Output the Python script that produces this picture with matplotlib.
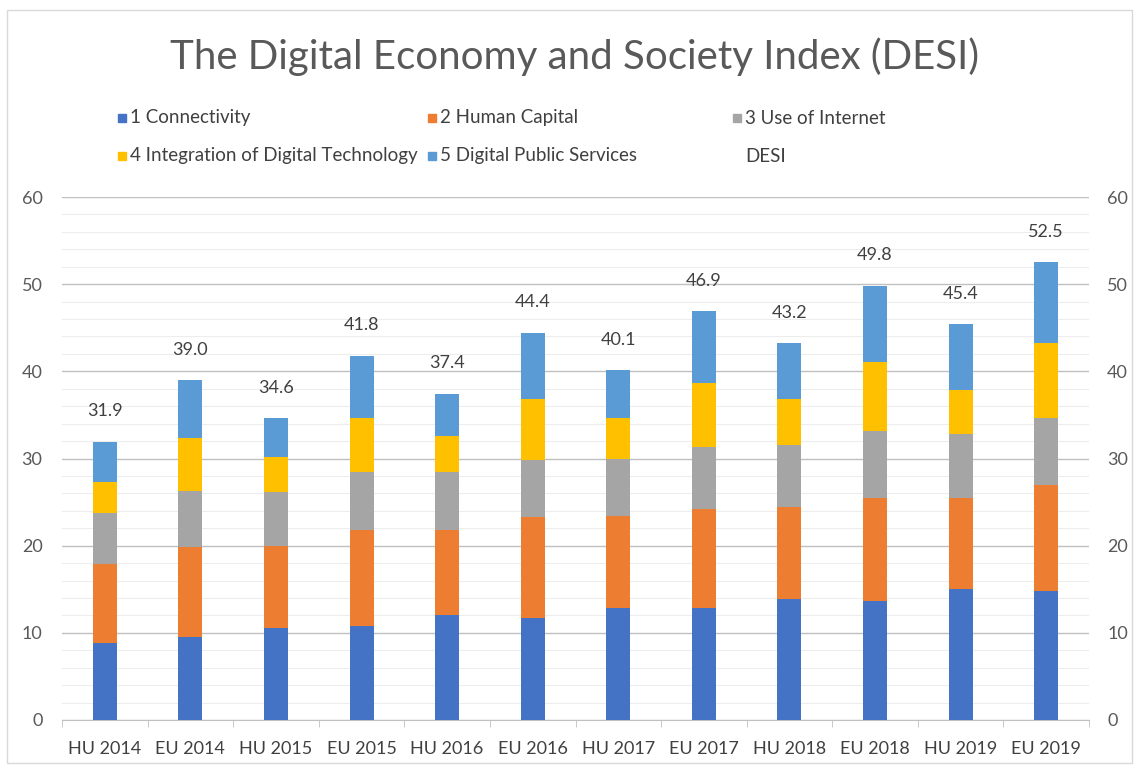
import matplotlib.pyplot as plt
from matplotlib.patches import Rectangle
import numpy as np

plt.rcParams['font.family'] = ['Lato', 'DejaVu Sans']

categories = ['HU 2014', 'EU 2014', 'HU 2015', 'EU 2015', 'HU 2016', 'EU 2016',
              'HU 2017', 'EU 2017', 'HU 2018', 'EU 2018', 'HU 2019', 'EU 2019']
connectivity = [8.8, 9.5, 10.5, 10.8, 12.0, 11.7, 12.8, 12.8, 13.9, 13.6, 15.0, 14.8]
human_capital = [9.1, 10.3, 9.5, 11.0, 9.8, 11.6, 10.6, 11.4, 10.5, 11.9, 10.5, 12.2]
use_internet = [5.8, 6.5, 6.1, 6.6, 6.6, 6.5, 6.6, 7.1, 7.1, 7.6, 7.3, 7.7]
integration = [3.6, 6.1, 4.1, 6.3, 4.2, 7.0, 4.7, 7.4, 5.3, 8.0, 5.1, 8.5]
public_services = [4.6, 6.6, 4.4, 7.1, 4.8, 7.6, 5.4, 8.2, 6.4, 8.7, 7.5, 9.3]
desi = [31.9, 39.0, 34.6, 41.8, 37.4, 44.4, 40.1, 46.9, 43.2, 49.8, 45.4, 52.5]

series_names = ['1 Connectivity', '2 Human Capital', '3 Use of Internet',
                '4 Integration of Digital Technology', '5 Digital Public Services']
series_vals = [connectivity, human_capital, use_internet, integration, public_services]
colors = ['#4472C4', '#ED7D31', '#A5A5A5', '#FFC000', '#5B9BD5']

W, H = 1134, 767
fig = plt.figure(figsize=(W / 100, H / 100), dpi=100)
ax = fig.add_axes([62 / W, 1 - 720 / H, (1089 - 62) / W, (720 - 197) / H])

x = np.arange(len(categories))
bottom = np.zeros(len(categories))
for name, vals, color in zip(series_names, series_vals, colors):
    ax.bar(x, vals, 0.28, bottom=bottom, color=color, label=name, zorder=3)
    bottom += np.array(vals)

# DESI totals written above each stack
for xi, v in zip(x, desi):
    ax.text(xi, v + 3.5, f'{v:.1f}', ha='center', va='center', fontsize=13, color='#404040')

ax.set_xlim(-0.5, len(categories) - 0.5)
ax.set_ylim(0, 60)
ax.set_yticks(range(0, 61, 10))
ax.set_yticks(range(0, 61, 2), minor=True)
ax.grid(axis='y', which='major', color='#C0C0C0', linewidth=1.0, zorder=0)
ax.grid(axis='y', which='minor', color='#EDEDED', linewidth=0.8, zorder=0)
ax.set_xticks(x)
ax.set_xticklabels(categories, fontsize=13, color='#404040')
ax.set_xticks(np.arange(-0.5, len(categories), 1), minor=True)
ax.tick_params(axis='x', which='major', length=0, pad=15)
ax.tick_params(axis='x', which='minor', length=5, color='#C0C0C0')
ax.tick_params(axis='y', which='both', length=0, labelsize=13, labelcolor='#595959', pad=14)
for s in ['top', 'left', 'right']:
    ax.spines[s].set_visible(False)
ax.spines['bottom'].set_color('#C0C0C0')

ax2 = ax.twinx()
ax2.set_ylim(0, 60)
ax2.set_yticks(range(0, 61, 10))
ax2.tick_params(axis='y', length=0, labelsize=13, labelcolor='#595959', pad=13)
for s in ['top', 'left', 'right', 'bottom']:
    ax2.spines[s].set_visible(False)

fig.text(575 / W, 1 - 57 / H, 'The Digital Economy and Society Index (DESI)',
         ha='center', va='center', fontsize=29, color='#595959')

# legend laid out like the Excel one: 3 fixed-width columns, row by row
leg_names = series_names + ['DESI']
leg_cols = [122, 432, 737]
leg_rows = [118, 156]
for i, name in enumerate(leg_names):
    lx = leg_cols[i % 3]
    ly = leg_rows[i // 3]
    if i < len(colors):
        fig.patches.append(Rectangle(((lx - 4) / W, 1 - (ly + 4) / H), 8 / W, 8 / H,
                                     transform=fig.transFigure, color=colors[i]))
    fig.text((lx + 8) / W, 1 - ly / H, name, ha='left', va='center', fontsize=13.5, color='#404040')

fig.patches.append(Rectangle((7 / W, 4 / H), 1 - 9 / W, 1 - 14 / H,
                             transform=fig.transFigure, fill=False, edgecolor='#D9D9D9', linewidth=1))

fig.savefig('out.png', dpi=100)
